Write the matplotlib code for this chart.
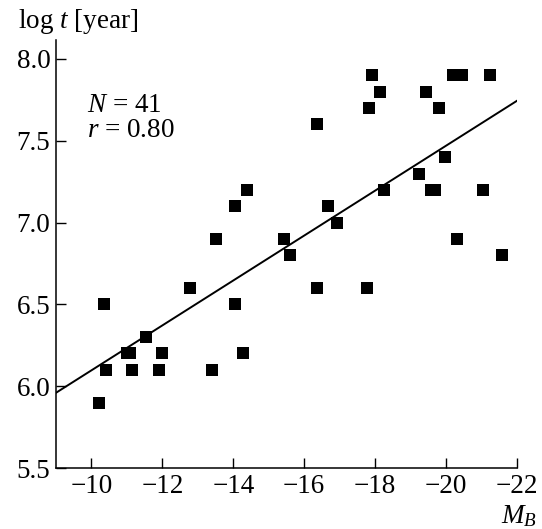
import matplotlib
matplotlib.use("Agg")
import matplotlib.pyplot as plt
import numpy as np

plt.rcParams['font.family'] = ['Liberation Serif', 'DejaVu Serif']
plt.rcParams['mathtext.fontset'] = 'custom'
plt.rcParams['mathtext.rm'] = 'Liberation Serif'
plt.rcParams['mathtext.it'] = 'Liberation Serif:italic'

mb = [-10.2, -10.35, -10.4, -11.0, -11.1, -11.13, -11.53, -11.98, -11.9, -12.78,
      -13.4, -14.06, -14.28, -14.4, -14.04, -13.5, -16.35, -17.9, -18.14, -17.82,
      -19.43, -19.8, -20.19, -20.44, -21.24, -19.96, -19.24, -19.58, -19.7, -18.26,
      -21.03, -16.68, -16.93, -15.43, -15.61, -20.3, -21.57, -16.35, -17.78]
logt = [5.9, 6.5, 6.1, 6.2, 6.2, 6.1, 6.3, 6.2, 6.1, 6.6,
        6.1, 6.5, 6.2, 7.2, 7.1, 6.9, 7.6, 7.9, 7.8, 7.7,
        7.8, 7.7, 7.9, 7.9, 7.9, 7.4, 7.3, 7.2, 7.2, 7.2,
        7.2, 7.1, 7.0, 6.9, 6.8, 6.9, 6.8, 6.6, 6.6]
fit_intercept = 4.724
fit_slope = -0.1373
xticks = [-10, -12, -14, -16, -18, -20, -22]
yticks = [5.5, 6.0, 6.5, 7.0, 7.5, 8.0]

W, H = 542, 529
FS = 19.5
fig = plt.figure(figsize=(W / 100, H / 100), dpi=100)
ax = fig.add_axes([56 / W, 1 - 468 / H, (517 - 56) / W, (468 - 40) / H])

ax.plot(mb, logt, 's', color='black', markersize=9, markeredgewidth=0, zorder=3)
xl = np.array([-9, -22])
ax.plot(xl, fit_intercept + fit_slope * xl, color='black', lw=1.4, zorder=2)

ax.set_xlim(-9, -22)
ax.set_ylim(5.5, 8.116)
ax.set_xticks(xticks)
ax.set_xticklabels([f"\u2212{abs(v)}" for v in xticks])
ax.set_yticks(yticks)
ax.set_yticklabels([f"{v:.1f}" for v in yticks])
ax.tick_params(direction='in', length=7, width=1, labelsize=FS, pad=4)
ax.tick_params(axis='x', pad=4)
for s in ['top', 'right']:
    ax.spines[s].set_visible(False)
for s in ['left', 'bottom']:
    ax.spines[s].set_linewidth(1.1)

fig.text(87 / W, 1 - 112 / H, r"$N$ = 41", fontsize=FS, va='baseline')
fig.text(87 / W, 1 - 137 / H, r"$r$ = 0.80", fontsize=FS, va='baseline')

fig.text(18 / W, 1 - 28 / H, r"log $t$ [year]", fontsize=FS, va='baseline')
fig.text(537 / W, 1 - 523 / H, r"$M_B$", fontsize=FS, ha='right', va='baseline')

fig.savefig("out.png", dpi=100)
